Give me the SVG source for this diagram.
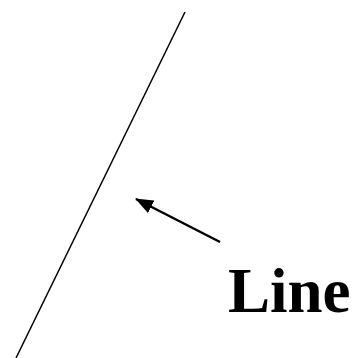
<svg xmlns="http://www.w3.org/2000/svg" width="358" height="358" viewBox="0 0 358 358">
<defs>
<marker id="ah" markerWidth="18" markerHeight="14" refX="17" refY="7" orient="auto" markerUnits="userSpaceOnUse">
<path d="M0,0 L18,7 L0,14 Z" fill="#000"/>
</marker>
</defs>
<rect width="358" height="358" fill="#fff"/>
<g id="line-shape">
<line x1="185" y1="12" x2="16" y2="358" stroke="#000" stroke-width="1.5"/>
</g>
<g id="connectors">
<line x1="220" y1="242" x2="136" y2="199" stroke="#000" stroke-width="2.5" marker-end="url(#ah)"/>
</g>
<g id="label">
<text x="228" y="312" font-family="Liberation Serif, serif" font-weight="bold" font-size="63">Line</text>
</g>
</svg>
